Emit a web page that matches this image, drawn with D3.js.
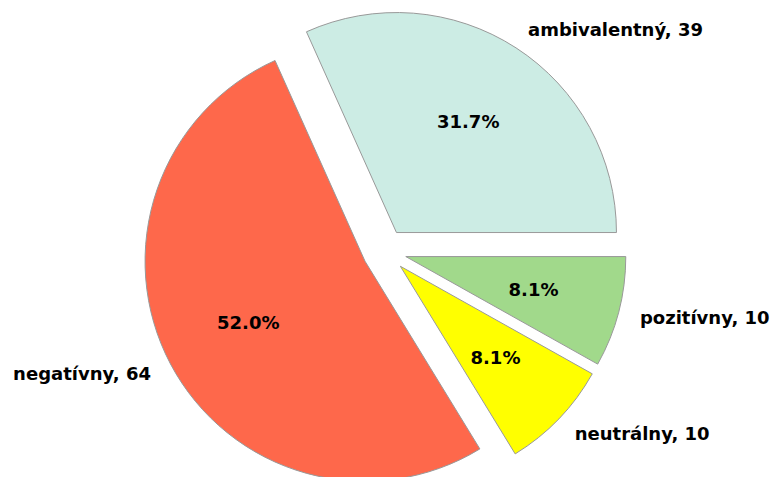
<!DOCTYPE html>
<head>
  <meta charset="utf-8">
  <script src="https://d3js.org/d3.v7.min.js"></script>
  <style>
    body { margin: 0; background: #fff; }
    .label { font-family: "DejaVu Sans", sans-serif; font-weight: bold; font-size: 18px; fill: #000; }
  </style>
</head>
<body>
  <script>
    var categories = ["ambivalentný", "negatívny", "neutrálny", "pozitívny"];
    var counts = [39, 64, 10, 10];
    var colors = ["#ccece4", "#fe684b", "#ffff00", "#a1d98b"];

    var width = 776, height = 477;
    var cx = 384.5, cy = 251, r = 220, explode = 0.1;

    var svg = d3.select("body").append("svg")
      .attr("width", width)
      .attr("height", height);

    var data = categories.map((c, i) => ({name: c, value: counts[i], color: colors[i]}));
    var total = d3.sum(counts);

    // counterclockwise from 3 o'clock, like matplotlib
    var pie = d3.pie()
      .sort(null)
      .value(d => d.value)
      .startAngle(Math.PI / 2)
      .endAngle(Math.PI / 2 - 2 * Math.PI);

    var arc = d3.arc().innerRadius(0).outerRadius(r);

    var slices = svg.append("g")
      .attr("transform", "translate(" + [cx, cy] + ")")
      .selectAll("g")
      .data(pie(data))
      .enter().append("g")
        .attr("transform", d => {
          var a = (d.startAngle + d.endAngle) / 2;
          return "translate(" + [Math.sin(a) * r * explode, -Math.cos(a) * r * explode] + ")";
        });

    slices.append("path")
      .attr("d", arc)
      .attr("fill", d => d.data.color)
      .attr("stroke", "#999")
      .attr("stroke-width", 1);

    slices.append("text")
      .attr("class", "label")
      .attr("x", d => Math.sin((d.startAngle + d.endAngle) / 2) * r * 0.6)
      .attr("y", d => -Math.cos((d.startAngle + d.endAngle) / 2) * r * 0.6)
      .attr("text-anchor", "middle")
      .attr("dy", "0.35em")
      .text(d => (d.data.value / total * 100).toFixed(1) + "%");

    slices.append("text")
      .attr("class", "label")
      .attr("x", d => Math.sin((d.startAngle + d.endAngle) / 2) * r * 1.1)
      .attr("y", d => -Math.cos((d.startAngle + d.endAngle) / 2) * r * 1.1)
      .attr("text-anchor", d => Math.sin((d.startAngle + d.endAngle) / 2) > 0 ? "start" : "end")
      .attr("dy", "0.35em")
      .text(d => d.data.name + ", " + d.data.value);
  </script>
</body>
